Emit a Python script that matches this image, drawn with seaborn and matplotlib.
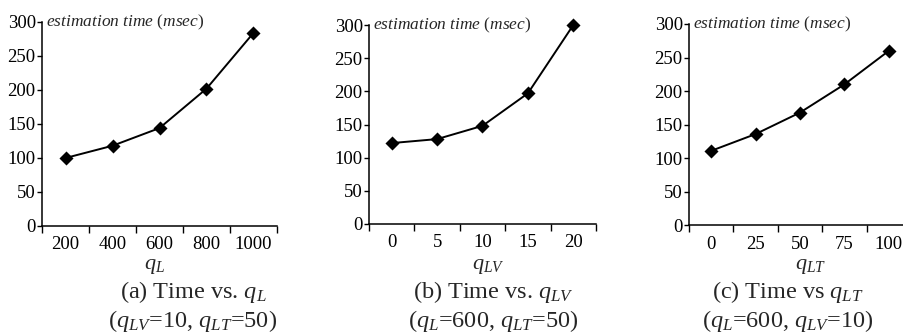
import numpy as np
import pandas as pd
import seaborn as sns
import matplotlib
matplotlib.use("Agg")
import matplotlib.pyplot as plt

# ---- data ----
qL_vals = [200, 400, 600, 800, 1000]
qL_time = [100, 118, 144, 202, 284]

qLV_vals = [0, 5, 10, 15, 20]
qLV_time = [122, 128, 148, 197, 300]

qLT_vals = [0, 25, 50, 75, 100]
qLT_time = [111, 136, 168, 210, 260]

y_ticks = [0, 50, 100, 150, 200, 250, 300]

xlabels = ["$q_L$", "$q_{LV}$", "$q_{LT}$"]
captions = [
    ("(a) Time vs. $q_L$", "($q_{LV}$=10, $q_{LT}$=50)"),
    ("(b) Time vs. $q_{LV}$", "($q_L$=600, $q_{LT}$=50)"),
    ("(c) Time vs $q_{LT}$", "($q_L$=600, $q_{LV}$=10)"),
]
ylabel = r"$\mathit{estimation\ time}$ ($\mathit{msec}$)"

# ---- style ----
sns.set_theme(style="white")
plt.rcParams["font.family"] = ["Liberation Serif", "DejaVu Serif"]
plt.rcParams["mathtext.fontset"] = "custom"
plt.rcParams["mathtext.rm"] = "Liberation Serif"
plt.rcParams["mathtext.it"] = "Liberation Serif:italic"
plt.rcParams["mathtext.bf"] = "Liberation Serif:bold"

W, H = 904, 336
fig = plt.figure(figsize=(W / 100, H / 100), dpi=100)
fig.patch.set_facecolor("white")

# axes boxes in pixels: (left, right, y0_pixel, y300_pixel)
boxes = [(42, 277, 226, 22), (369, 596, 224, 25), (689, 911, 225.3, 24)]
caption_x = [193, 493, 788]
xlabel_x = [155, 488, 811]

datasets = [(qL_vals, qL_time), (qLV_vals, qLV_time), (qLT_vals, qLT_time)]

for i, ((xv, yv), (l, r, yb, yt)) in enumerate(zip(datasets, boxes)):
    ax = fig.add_axes([l / W, (H - yb) / H, (r - l) / W, (yb - yt) / H])
    df = pd.DataFrame({"x": xv, "y": yv})
    sns.pointplot(data=df, x="x", y="y", ax=ax, color="black", markers="D",
                  linestyles="-", markersize=6.5, linewidth=1.4, errorbar=None)
    for ln in ax.lines:
        ln.set_clip_on(False)
    for c in ax.collections:
        c.set_clip_on(False)
    ax.set_xlim(-0.5, len(xv) - 0.5)
    ax.set_ylim(0, 300)
    ax.set_yticks(y_ticks)
    ax.set_xticks(range(len(xv)))
    ax.set_xticklabels([str(v) for v in xv])
    ax.set_xticks(np.arange(-0.5, len(xv), 1.0), minor=True)
    ax.tick_params(axis="x", which="major", length=0, pad=7.5, labelsize=13.5,
                   colors="black")
    ax.tick_params(axis="x", which="minor", length=5, width=1.0,
                   direction="out", color="black", bottom=True)
    ax.tick_params(axis="y", which="major", length=3.5, width=1.0,
                   direction="out", pad=1, labelsize=13.5, colors="black",
                   left=True)
    for s in ["top", "right"]:
        ax.spines[s].set_visible(False)
    for s in ["left", "bottom"]:
        ax.spines[s].set_color("black")
        ax.spines[s].set_linewidth(1.1)
    ax.set_ylabel("")
    ax.set_xlabel(xlabels[i], fontsize=16)
    ax.xaxis.set_label_coords((xlabel_x[i] - l) / (r - l), (yb - 267) / (yb - yt))
    ax.xaxis.label.set_va("center")
    ax.annotate(ylabel, xy=(0, 1), xycoords="axes fraction", xytext=(3, 0),
                textcoords="offset points", ha="left", va="center",
                fontsize=12.5)
    ax.set_facecolor("white")
    ax.grid(False)

    fig.text(caption_x[i] / W, 1 - 292 / H, captions[i][0], ha="center",
             va="center", fontsize=17.5)
    fig.text(caption_x[i] / W, 1 - 321 / H, captions[i][1], ha="center",
             va="center", fontsize=17.5)

fig.savefig("out.png", dpi=100)
